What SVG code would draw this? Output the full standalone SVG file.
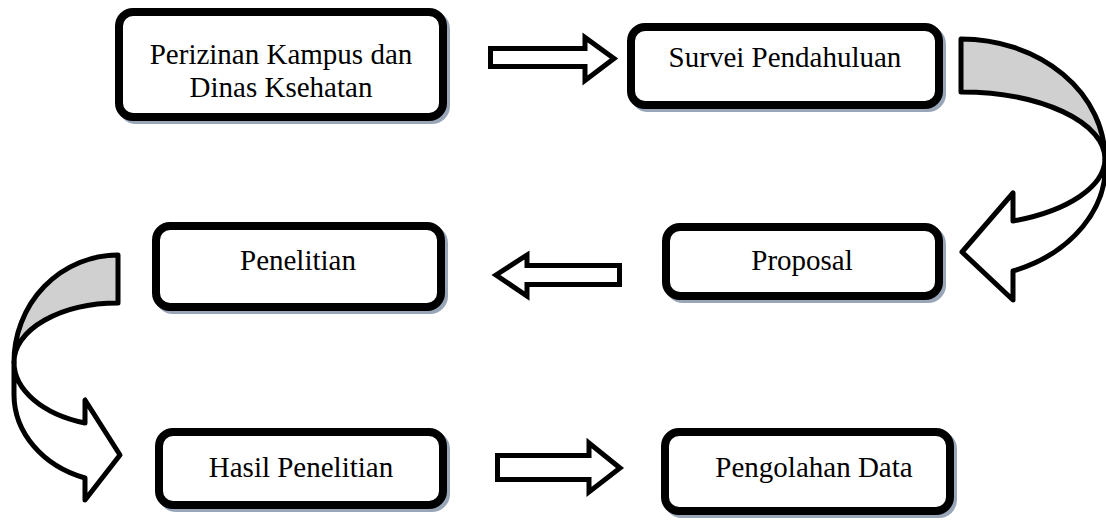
<svg xmlns="http://www.w3.org/2000/svg" width="1106" height="520" viewBox="0 0 1106 520">
<style>
.box{fill:#fff;stroke:#000;stroke-width:8}
.sh{fill:#98a6b8;stroke:#98a6b8;stroke-width:8}
.t{font-family:"Liberation Serif","Times New Roman",serif;font-size:29px;fill:#000;text-anchor:middle}
.ar{fill:#fff;stroke:#000;stroke-width:5;stroke-linejoin:miter}
.cv{stroke:#000;stroke-width:5;stroke-linejoin:round}
</style>
<rect width="1106" height="520" fill="#fff"/>
<g id="n1">
<rect class="sh" x="122" y="15" width="324" height="105" rx="14"/>
<rect class="box" x="119" y="12" width="324" height="105" rx="14"/>
<text class="t" x="281" y="64">Perizinan Kampus dan</text>
<text class="t" x="281" y="97">Dinas Ksehatan</text>
</g>
<g id="n2">
<rect class="sh" x="634" y="30" width="308" height="78" rx="14"/>
<rect class="box" x="631" y="27" width="308" height="78" rx="14"/>
<text class="t" x="785" y="67">Survei Pendahuluan</text>
</g>
<g id="n3">
<rect class="sh" x="669" y="230" width="273" height="69" rx="14"/>
<rect class="box" x="666" y="227" width="273" height="69" rx="14"/>
<text class="t" x="802" y="270">Proposal</text>
</g>
<g id="n4">
<rect class="sh" x="159" y="229" width="285" height="81" rx="14"/>
<rect class="box" x="156" y="226" width="285" height="81" rx="14"/>
<text class="t" x="298" y="270">Penelitian</text>
</g>
<g id="n5">
<rect class="sh" x="162" y="435" width="284" height="73" rx="14"/>
<rect class="box" x="159" y="432" width="284" height="73" rx="14"/>
<text class="t" x="301" y="477">Hasil Penelitian</text>
</g>
<g id="n6">
<rect class="sh" x="668" y="435" width="285" height="79" rx="14"/>
<rect class="box" x="665" y="432" width="285" height="79" rx="14"/>
<text class="t" x="814" y="477">Pengolahan Data</text>
</g>
<g id="connectors">
<path class="ar" d="M490.5,48.5 L585,48.5 L585,37.5 L614,58.5 L585,80.5 L585,66.5 L490.5,66.5 Z"/>
<path class="ar" d="M619.5,265.5 L527,265.5 L527,255 L496,275 L527,296 L527,284.5 L619.5,284.5 Z"/>
<path class="ar" d="M497.5,455.5 L589,455.5 L589,443 L620,468 L589,492 L589,479.5 L497.5,479.5 Z"/>
<path class="cv" fill="#d0d0d0" d="M961,39 A144,120 0 0 1 1105,159 A144,67 0 0 0 961,92 Z"/>
<path class="cv" fill="#fff" d="M1105,159 A144,112 0 0 1 1013,271 L1013,300 L962,252 L1013,193 L1013,221 A144,67 0 0 0 1105,159 Z"/>
<path class="cv" fill="#d0d0d0" d="M118,255 A104,107 0 0 0 14,362 A104,59 0 0 1 118,303 Z"/>
<path class="cv" fill="#fff" d="M14,362 L14,395 A104,88 0 0 0 85,478 L85,500 L120,455 L85,400 L85,423 A104,64 0 0 1 14,362 Z"/>
</g>
</svg>
